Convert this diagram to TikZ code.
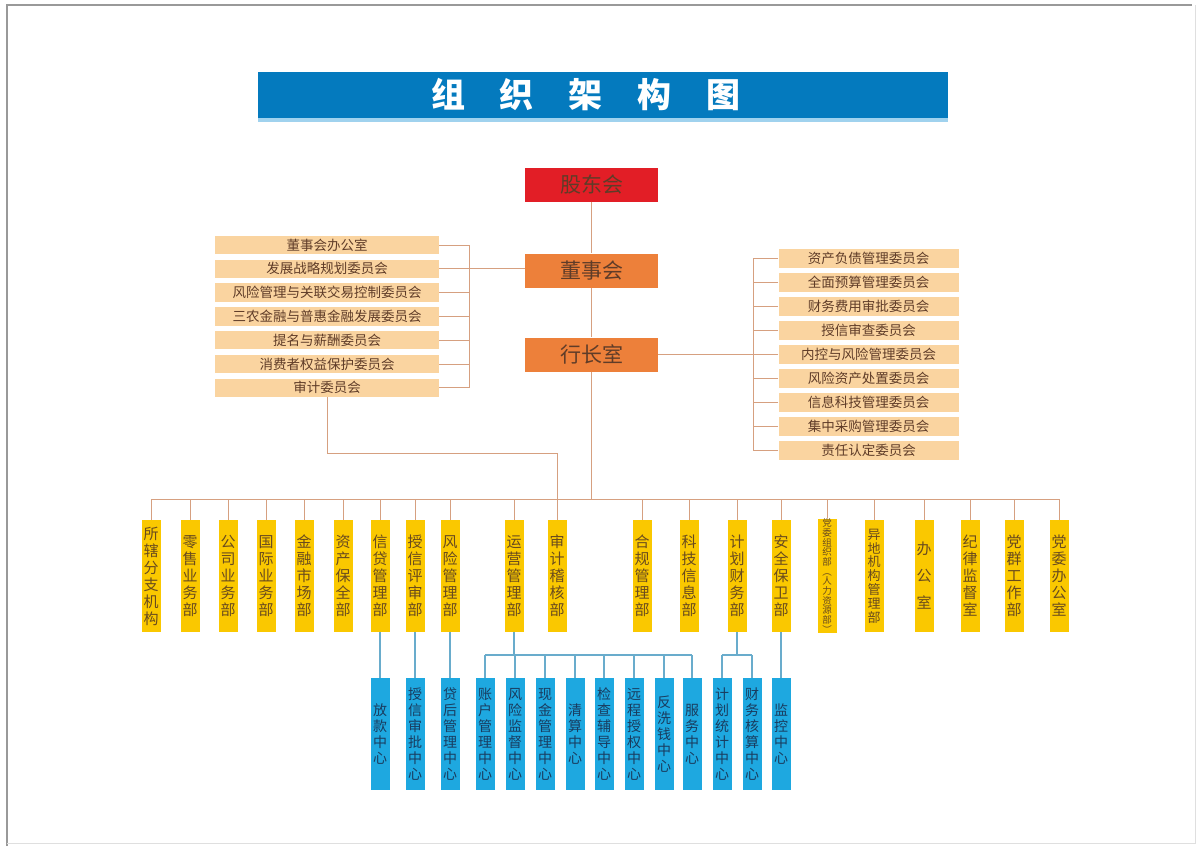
\documentclass[tikz,border=0pt]{standalone}
\usepackage{fontspec}
\newfontfamily\cjk{Noto Sans CJK SC}
\definecolor{TitleBlue}{RGB}{4,122,190}
\definecolor{StripBlue}{RGB}{160,210,238}
\definecolor{BoardRed}{RGB}{226,30,38}
\definecolor{BoardOrange}{RGB}{237,128,58}
\definecolor{Peach}{RGB}{250,212,160}
\definecolor{DeptYellow}{RGB}{250,200,0}
\definecolor{CtrBlue}{RGB}{30,168,224}
\definecolor{LineTan}{RGB}{214,160,128}
\definecolor{LineBlue}{RGB}{105,172,204}
\definecolor{TextBrown}{RGB}{95,60,40}
\definecolor{DeptText}{RGB}{105,75,30}
\definecolor{CtrText}{RGB}{25,60,95}
\usetikzlibrary{positioning,calc}

\begin{document}
\begin{tikzpicture}[x=1pt,y=-1pt,every node/.style={font=\cjk},
  topbox/.style={minimum width=133pt,minimum height=34pt,inner sep=0pt,
        text=TextBrown,font=\cjk\fontsize{21}{21}\selectfont},
  combox/.style={fill=Peach,minimum height=18.5pt,inner sep=0pt,
        text=TextBrown,font=\cjk\fontsize{13.5}{14}\selectfont},
  deptbox/.style={fill=DeptYellow,minimum width=19pt,minimum height=112pt,
        inner sep=0pt,text width=19pt,align=center,text=DeptText,
        font=\cjk\fontsize{15}{17}\selectfont},
  ctrbox/.style={fill=CtrBlue,minimum width=19pt,minimum height=112pt,
        inner sep=0pt,text width=19pt,align=center,text=CtrText,
        font=\cjk\fontsize{14}{16}\selectfont},
  tanline/.style={draw=LineTan,line width=1pt},
  blueline/.style={draw=LineBlue,line width=1.3pt}]
  \useasboundingbox (0,0) rectangle (1199,846);
  % page frame
  \draw[gray!80,line width=1.5pt] (7,846) -- (7,5) -- (1192,5);
  \draw[gray!25,line width=0.8pt] (1195,5) -- (1195,843) -- (7,843);

  % title
  \node[fill=TitleBlue,minimum width=690pt,minimum height=46pt,inner sep=0pt]
    (bar) at (603,95) {};
  \fill[StripBlue] (bar.south west) rectangle ++(690,4);
  \node[text=white,font=\cjk\bfseries\fontsize{34}{34}\selectfont] (title) at (586,95)
    {组\hspace{35pt}织\hspace{35pt}架\hspace{35pt}构\hspace{35pt}图};

  % top of the chain
  \node[topbox,fill=BoardRed] (GD) at (591.5,184.5) {股东会};
  \node[topbox,fill=BoardOrange] (DSH) at (591.5,270.5) {董事会};
  \node[topbox,fill=BoardOrange] (HZS) at (591.5,354.5) {行长室};

  % board committees
  \foreach \n/\t in {1/董事会办公室,2/发展战略规划委员会,3/风险管理与关联交易控制委员会,
      4/三农金融与普惠金融发展委员会,5/提名与薪酬委员会,6/消费者权益保护委员会,7/审计委员会}
    \node[combox,minimum width=224pt] (L\n) at (327,245+23.8*\n-23.8) {\t};

  % president committees
  \foreach \n/\t in {1/资产负债管理委员会,2/全面预算管理委员会,3/财务费用审批委员会,
      4/授信审查委员会,5/内控与风险管理委员会,6/风险资产处置委员会,
      7/信息科技管理委员会,8/集中采购管理委员会,9/责任认定委员会}
    \node[combox,minimum width=180pt] (R\n) at (868.5,258.5+24*\n-24) {\t};

  % departments
  \foreach \n/\x/\t in {
      1/151/{所\\辖\\分\\支\\机\\构},
      2/190/{零\\售\\业\\务\\部},
      3/228/{公\\司\\业\\务\\部},
      4/266/{国\\际\\业\\务\\部},
      5/304/{金\\融\\市\\场\\部},
      6/343/{资\\产\\保\\全\\部},
      7/380/{信\\贷\\管\\理\\部},
      8/415/{授\\信\\评\\审\\部},
      9/450/{风\\险\\管\\理\\部},
      10/514/{运\\营\\管\\理\\部},
      11/557/{审\\计\\稽\\核\\部},
      12/642/{合\\规\\管\\理\\部},
      13/689/{科\\技\\信\\息\\部},
      14/737/{计\\划\\财\\务\\部},
      15/781/{安\\全\\保\\卫\\部},
      18/924/{办\\[10pt]公\\[10pt]室},
      19/970/{纪\\律\\监\\督\\室},
      20/1014/{党\\群\\工\\作\\部},
      21/1059/{党\\委\\办\\公\\室}}
    \node[deptbox] (D\n) at (\x,576) {\t};
  \node[deptbox,font=\cjk\fontsize{9.5}{9.7}\selectfont] (D16) at (827,576)
    {党\\委\\组\\织\\部\\︵\\人\\力\\资\\源\\部\\︶};
  \node[deptbox,font=\cjk\fontsize{13}{13.8}\selectfont] (D17) at (874,576)
    {异\\地\\机\\构\\管\\理\\部};

  % centres
  \foreach \n/\x/\t in {
      1/380/{放\\款\\中\\心},
      2/415/{授\\信\\审\\批\\中\\心},
      3/450/{贷\\后\\管\\理\\中\\心},
      4/485/{账\\户\\管\\理\\中\\心},
      5/515/{风\\险\\监\\督\\中\\心},
      6/545/{现\\金\\管\\理\\中\\心},
      7/575/{清\\算\\中\\心},
      8/604/{检\\查\\辅\\导\\中\\心},
      9/634/{远\\程\\授\\权\\中\\心},
      10/664/{反\\洗\\钱\\中\\心},
      11/692/{服\\务\\中\\心},
      12/722/{计\\划\\统\\计\\中\\心},
      13/752/{财\\务\\核\\算\\中\\心},
      14/781/{监\\控\\中\\心}}
    \node[ctrbox] (C\n) at (\x,734) {\t};

  % tan connectors
  \coordinate (bus) at (0,499);
  \coordinate (lb) at (469,0);
  \coordinate (rb) at (753,0);
  \coordinate (aud) at (557,453);
  \draw[tanline] (GD.south) -- (DSH.north);
  \draw[tanline] (DSH.south) -- (HZS.north);
  \draw[tanline] (HZS.south) -- (HZS.south |- bus);
  \foreach \n in {1,...,7}
    \draw[tanline] (L\n.east) -- (L\n.east -| lb);
  \draw[tanline] (L1.east -| lb) -- (L7.east -| lb);
  \draw[tanline] (L2.east -| lb) -- (L2.east -| DSH.west);
  \foreach \n in {1,...,9}
    \draw[tanline] (R\n.west) -- (R\n.west -| rb);
  \draw[tanline] (R1.west -| rb) -- (R9.west -| rb);
  \draw[tanline] (HZS.east) -- (HZS.east -| rb);
  \draw[tanline] (L7.south) |- (aud) -- (aud |- bus);
  \draw[tanline] (D1.north |- bus) -- (D21.north |- bus);
  \foreach \n in {1,...,21}
    \draw[tanline] (D\n.north) -- (D\n.north |- bus);

  % blue connectors
  \coordinate (yb) at (0,655);
  \draw[blueline] (D7.south) -- (C1.north);
  \draw[blueline] (D8.south) -- (C2.north);
  \draw[blueline] (D9.south) -- (C3.north);
  \draw[blueline] (D15.south) -- (C14.north);
  \draw[blueline] (D10.south) -- (D10.south |- yb);
  \draw[blueline] (C4.north |- yb) -- (C11.north |- yb);
  \foreach \n in {4,...,11}
    \draw[blueline] (C\n.north |- yb) -- (C\n.north);
  \draw[blueline] (D14.south) -- (D14.south |- yb);
  \draw[blueline] (C12.north |- yb) -- (C13.north |- yb);
  \foreach \n in {12,13}
    \draw[blueline] (C\n.north |- yb) -- (C\n.north);
\end{tikzpicture}
\end{document}
